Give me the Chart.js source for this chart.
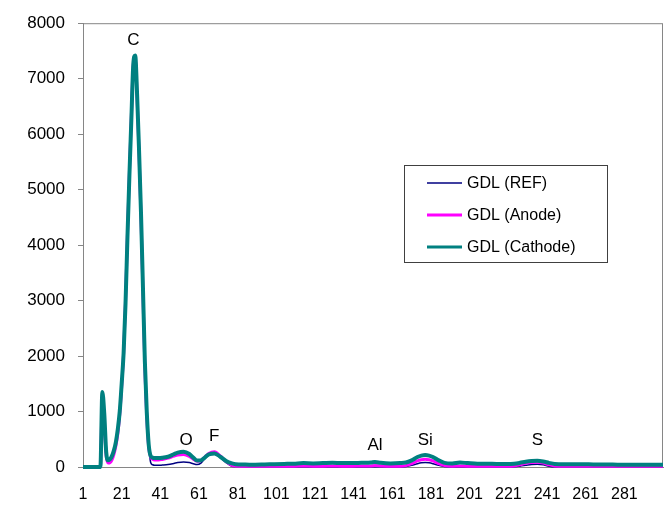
<!DOCTYPE html>
<html>
<head>
<meta charset="utf-8">
<title>GDL</title>
<script src="https://cdn.jsdelivr.net/npm/chart.js@4.4.0/dist/chart.umd.min.js"></script>
<style>
  html, body { margin: 0; padding: 0; background: #fff; }
</style>
</head>
<body>
<canvas id="grafica" width="665" height="506"></canvas>
<script>
// Puntos del eje x (canal), compartidos por las tres series
const xPuntos = [
  1, 10, 11, 12, 13, 14, 15, 16, 17, 18,
  19, 20, 21, 22, 23, 24, 25, 26, 27, 28,
  29, 30, 31, 32, 33, 34, 35, 36, 37, 38,
  40, 42, 45, 48, 50, 53, 56, 58, 60, 62,
  64, 66, 69, 72, 75, 78, 80, 85, 90, 95,
  100, 105, 110, 115, 120, 125, 130, 135, 140, 145,
  150, 152, 155, 160, 165, 168, 171, 174, 176, 178,
  180, 182, 185, 188, 192, 196, 200, 205, 210, 215,
  220, 224, 227, 230, 233, 236, 239, 242, 245, 250,
  255, 260, 265, 270, 275, 280, 285, 290, 295, 301
];

const refData = [
  0, 0, 1300, 900, 220, 90, 100, 160, 260, 420,
  650, 980, 1480, 2050, 2950, 4150, 5250, 6250, 7250, 7400,
  6750, 5750, 4650, 3350, 2000, 1050, 420, 80, 40, 30,
  30, 35, 45, 65, 80, 90, 80, 60, 45, 70,
  150, 210, 230, 170, 80, 15, 8, 5, 5, 5,
  5, 5, 5, 5, 5, 5, 5, 5, 5, 5,
  5, 5, 5, 5, 5, 10, 30, 60, 75, 80,
  75, 60, 30, 10, 5, 5, 5, 5, 5, 5,
  5, 5, 15, 30, 45, 50, 40, 15, 5, 5,
  5, 5, 5, 5, 5, 5, 5, 5, 5, 5
];

const anodeData = [
  0, 0, 1250, 800, 200, 70, 80, 130, 230, 380,
  600, 950, 1450, 2050, 3000, 4200, 5300, 6300, 7250, 7380,
  6650, 5650, 4500, 3150, 1800, 900, 350, 180, 140, 125,
  125, 135, 160, 195, 215, 225, 190, 140, 105, 120,
  180, 245, 275, 200, 100, 30, 20, 15, 15, 15,
  15, 15, 15, 20, 15, 15, 20, 15, 15, 20,
  20, 25, 20, 15, 15, 25, 60, 110, 130, 140,
  130, 110, 60, 25, 15, 20, 15, 15, 15, 15,
  15, 20, 40, 65, 80, 85, 70, 40, 20, 15,
  15, 15, 15, 15, 15, 15, 15, 15, 15, 15
];

const cathodeData = [
  0, 0, 1350, 960, 270, 120, 140, 200, 300, 450,
  680, 1000, 1500, 2050, 2950, 4150, 5250, 6250, 7250, 7420,
  6700, 5700, 4580, 3250, 1900, 980, 400, 200, 170, 160,
  160, 165, 185, 230, 260, 275, 235, 170, 115, 120,
  170, 225, 245, 185, 110, 65, 50, 45, 40, 45,
  50, 55, 60, 70, 65, 70, 75, 70, 70, 75,
  80, 90, 75, 65, 70, 80, 120, 180, 205, 215,
  205, 180, 120, 75, 65, 80, 70, 60, 60, 55,
  55, 60, 75, 95, 108, 112, 100, 75, 55, 50,
  50, 50, 45, 45, 45, 40, 40, 40, 40, 40
];

const series = ['GDL (REF)', 'GDL (Anode)', 'GDL (Cathode)'];
const xTicks = [1, 21, 41, 61, 81, 101, 121, 141, 161, 181, 201, 221, 241, 261, 281];

// Etiquetas de los elementos sobre cada pico
const picos = ['C', 'O', 'F', 'Al', 'Si', 'S'];
const picosX = [27, 54.3, 68.8, 152, 178, 236];
const picosY = [7700, 490, 550, 390, 480, 480];

const FUENTE = 'Arial, "Liberation Sans", sans-serif';
const GRIS = '#868686';

function puntos(valores) {
  return xPuntos.map((x, i) => ({ x: x, y: valores[i] }));
}

// Marco del área de trazado
const marcoPlugin = {
  id: 'marco',
  beforeDatasetsDraw(chart) {
    const { ctx, chartArea: a } = chart;
    ctx.save();
    ctx.strokeStyle = GRIS;
    ctx.lineWidth = 1;
    ctx.strokeRect(a.left + 0.5, a.top + 0.5, a.right - a.left - 1, a.bottom - a.top);
    ctx.restore();
  }
};

const picosPlugin = {
  id: 'picos',
  afterDatasetsDraw(chart) {
    const { ctx, scales } = chart;
    ctx.save();
    ctx.fillStyle = '#000';
    ctx.font = '17px ' + FUENTE;
    ctx.textAlign = 'center';
    ctx.textBaseline = 'middle';
    picos.forEach((txt, i) => {
      ctx.fillText(txt, scales.x.getPixelForValue(picosX[i]), scales.y.getPixelForValue(picosY[i]));
    });
    ctx.restore();
  }
};

// Leyenda dentro del gráfico, con recuadro
const leyendaPlugin = {
  id: 'leyenda',
  afterDraw(chart) {
    const ctx = chart.ctx;
    const left = 404, top = 165, w = 203, h = 97;
    ctx.save();
    ctx.fillStyle = '#fff';
    ctx.fillRect(left, top, w, h);
    ctx.strokeStyle = '#404040';
    ctx.lineWidth = 1;
    ctx.strokeRect(left + 0.5, top + 0.5, w, h);
    ctx.font = '16px ' + FUENTE;
    ctx.textBaseline = 'middle';
    ctx.textAlign = 'left';
    chart.data.datasets.forEach((ds, i) => {
      const y = top + 18 + i * 32;
      ctx.strokeStyle = ds.borderColor;
      ctx.lineWidth = i === 0 ? 1.5 : 3;
      ctx.beginPath();
      ctx.moveTo(left + 23, y);
      ctx.lineTo(left + 58, y);
      ctx.stroke();
      ctx.fillStyle = '#000';
      ctx.fillText(ds.label, left + 63, y + 1);
    });
    ctx.restore();
  }
};

new Chart(document.getElementById('grafica').getContext('2d'), {
  type: 'line',
  data: {
    datasets: [
      { label: series[0], data: puntos(refData), borderColor: '#000080', borderWidth: 1.5, order: 2 },
      { label: series[1], data: puntos(anodeData), borderColor: '#ff00ff', borderWidth: 3, order: 1 },
      { label: series[2], data: puntos(cathodeData), borderColor: '#008080', borderWidth: 4, order: 0 }
    ]
  },
  options: {
    responsive: false,
    animation: false,
    layout: { padding: { top: 18, right: 2, left: 0, bottom: 0 } },
    elements: {
      point: { radius: 0 },
      line: { cubicInterpolationMode: 'monotone', borderJoinStyle: 'round', fill: false }
    },
    datasets: { line: { clip: 6 } },
    plugins: {
      legend: { display: false },
      tooltip: { enabled: false }
    },
    scales: {
      x: {
        type: 'linear',
        min: 1,
        max: 301,
        afterBuildTicks: axis => { axis.ticks = xTicks.map(v => ({ value: v })); },
        afterFit: axis => { axis.height = 39; },
        grid: { display: false, drawTicks: false },
        border: { display: true, color: GRIS },
        ticks: { color: '#000', font: { size: 16, family: FUENTE }, padding: 18, autoSkip: false, maxRotation: 0,
                 callback: v => String(v) }
      },
      y: {
        min: 0,
        max: 8000,
        afterFit: axis => { axis.width = 83; },
        grid: { drawOnChartArea: false, drawTicks: true, tickLength: 5, color: GRIS },
        border: { display: true, color: GRIS },
        ticks: { stepSize: 1000, color: '#000', font: { size: 17, family: FUENTE }, padding: 13,
                 callback: v => String(v) }
      }
    }
  },
  plugins: [marcoPlugin, picosPlugin, leyendaPlugin]
});
</script>
</body>
</html>
